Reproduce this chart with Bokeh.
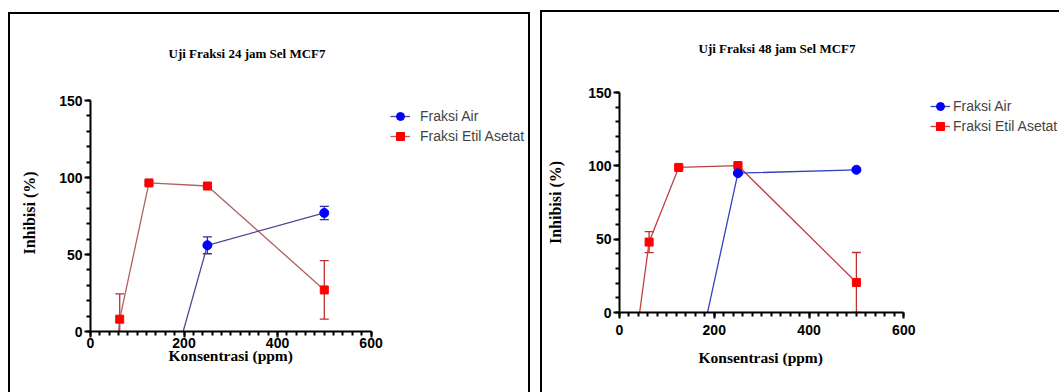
from bokeh.plotting import figure
from bokeh.layouts import row
from bokeh.models import (Range1d, FixedTicker, Legend, LegendItem, Title,
                          LinearAxis)
from bokeh.embed import file_html
from bokeh.resources import INLINE

# ---------------- data ----------------
conc_air = [125, 250, 500]
conc_ea = [31.25, 62.5, 125, 250, 500]

air_24 = [-79, 56, 77]
air_24_err = [0, 5.5, 4.3]
ea_24 = [-90, 8, 96.5, 94.5, 27]
ea_24_err = [0, 16.5, 1.0, 1.0, 19]

air_48 = [-90, 95, 97.3]
air_48_err = [0, 1.0, 1.0]
ea_48 = [-27, 48, 98.9, 100.2, 20.5]
ea_48_err = [0, 7.2, 1.0, 1.0, 20.4]

titles = ["Uji Fraksi 24 jam Sel MCF7", "Uji Fraksi 48 jam Sel MCF7"]
x_label = "Konsentrasi (ppm)"
y_label = "Inhibisi (%)"
x_ticks = [0, 200, 400, 600]
y_ticks = [0, 50, 100, 150]
series_labels = ["Fraksi Air", "Fraksi Etil Asetat"]

SERIF = "Liberation Serif"
SANS = "Liberation Sans"
X_MAX, Y_MAX = 600, 150


def make_panel(title, air, air_err, ea, ea_err, geom, stand, colors, styles, margin):
    # x_px / y_px: pixel length of the drawn axes; fw / fh: frame size
    (x_px, y_px, fw, fh, bl, bt, bb, leg_xy, leg_std, t_off, t_gap,
     xl_off, xl_stand) = geom
    (xls, yls, yas) = stand
    blue_line, red_line = colors
    p = figure(frame_width=fw, frame_height=fh,
               min_border_left=bl, min_border_right=0,
               min_border_top=bt, min_border_bottom=bb,
               x_range=Range1d(0, X_MAX * fw / x_px),
               y_range=Range1d(0, Y_MAX * fh / y_px),
               output_backend="svg", toolbar_location=None,
               background_fill_color="white", border_fill_color="white")
    p.outline_line_color = None
    p.grid.visible = False
    p.styles = styles
    p.margin = margin

    p.xaxis.ticker = FixedTicker(ticks=x_ticks,
                                 minor_ticks=list(range(0, X_MAX + 1, 20)))
    p.yaxis.ticker = FixedTicker(ticks=y_ticks,
                                 minor_ticks=list(range(0, Y_MAX + 1, 10)))
    p.xaxis.bounds = (0, X_MAX)
    p.yaxis.bounds = (0, Y_MAX)
    for ax in (p.xaxis, p.yaxis):
        ax.axis_line_width = 2
        ax.axis_line_color = "black"
        ax.major_tick_line_width = 2
        ax.minor_tick_line_width = 2
        ax.major_tick_out = 6
        ax.major_tick_in = 0
        ax.minor_tick_out = 4
        ax.minor_tick_in = 0
        ax.major_label_text_font = SANS
        ax.major_label_text_font_style = "bold"
        ax.major_label_text_font_size = "14px"
        ax.major_label_text_color = "black"
    p.yaxis.axis_label = y_label
    p.yaxis.axis_label_text_font = SERIF
    p.yaxis.axis_label_text_font_style = "bold"
    p.yaxis.axis_label_text_font_size = "16px"
    p.yaxis.axis_label_text_color = "black"
    p.xaxis.major_label_standoff = xls
    p.yaxis.major_label_standoff = yls
    p.yaxis.axis_label_standoff = yas

    # error bars (glyphs so they are clipped at the frame)
    def errbars(xs, ys, es, color):
        lo = [y - e for y, e in zip(ys, es)]
        hi = [y + e for y, e in zip(ys, es)]
        p.segment(x0=xs, y0=lo, x1=xs, y1=hi, line_color=color, line_width=1.3)
        p.scatter(x=xs + xs, y=lo + hi, marker="dash", size=9,
                  line_color=color, line_width=1.3)

    errbars(conc_ea, ea, ea_err, "#c03030")
    errbars(conc_air, air, air_err, "#3030a0")

    l_ea = p.line(conc_ea, ea, line_color=red_line, line_width=1.3)
    s_ea = p.scatter(conc_ea, ea, marker="square", size=8,
                     fill_color="#ff0000", line_color="#ff0000")
    l_air = p.line(conc_air, air, line_color=blue_line, line_width=1.3)
    s_air = p.scatter(conc_air, air, marker="circle", size=9,
                      fill_color="#0000ff", line_color="#0000ff")

    legend = Legend(items=[LegendItem(label=series_labels[0], renderers=[l_air, s_air]),
                           LegendItem(label=series_labels[1], renderers=[l_ea, s_ea])],
                    location=leg_xy, border_line_color=None,
                    background_fill_alpha=0, padding=0, margin=0, spacing=0,
                    glyph_width=20, glyph_height=20, label_standoff=leg_std,
                    label_text_font=SANS, label_text_font_size="14px",
                    label_height=20)
    p.add_layout(legend)

    # invisible spacer between the frame and the chart title
    spacer = LinearAxis(ticker=FixedTicker(ticks=[0]), axis_line_color=None,
                        major_tick_line_color=None, minor_tick_line_color=None,
                        major_tick_out=t_gap, minor_tick_out=0, major_tick_in=0,
                        minor_tick_in=0, major_label_standoff=0,
                        major_label_overrides={0: ""},
                        major_label_text_font_size="0px")
    p.add_layout(spacer, "above")
    p.add_layout(Title(text=title, text_font=SERIF, text_font_style="bold",
                       text_font_size="13px", align="left", offset=t_off,
                       standoff=0, text_color="black"), "above")
    p.add_layout(Title(text=x_label, text_font=SERIF, text_font_style="bold",
                       text_font_size="15.5px", align="left", offset=xl_off,
                       standoff=xl_stand, text_color="black"), "below")
    return p


p1 = make_panel(titles[0], air_24, air_24_err, ea_24, ea_24_err,
                (278, 229, 438, 235, 80, 80, 63, (300, 185), 10, 78, 34, 78, -12),
                (0, 2, 18),
                ("#4a4a8c", "#b06060"),
                {"border-top": "2px solid black", "border-left": "2px solid black",
                 "border-right": "2px solid black"},
                (12, 0, 0, 8))
p2 = make_panel(titles[1], air_48, air_48_err, ea_48, ea_48_err,
                (283, 218, 440, 218, 77, 80, 82, (311, 176), 3, 79, 37, 79, 18),
                (6, 2, 21),
                ("#3440c0", "#c04040"),
                {"border-top": "2px solid black", "border-left": "2px solid black"},
                (10, 0, 0, 10))

layout = row(p1, p2)
open("out.html", "w").write(file_html(layout, INLINE))
